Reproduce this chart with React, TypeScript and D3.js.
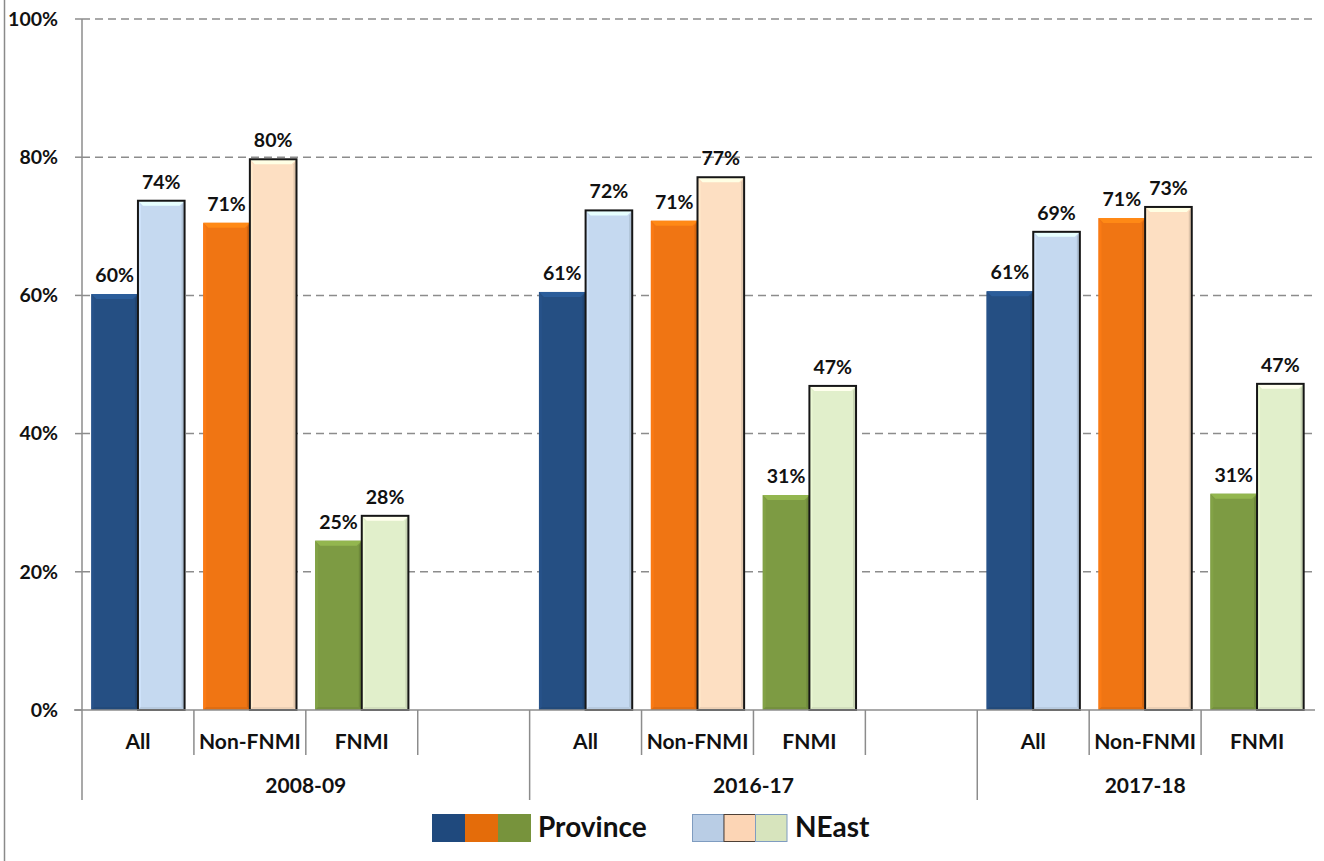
import React from "react";
import * as d3 from "d3";

// Categories and series
const years = ["2008-09", "2016-17", "2017-18"];
const groups = ["All", "Non-FNMI", "FNMI"];
const seriesNames = ["Province", "NEast"];

// Values as shares (0-1), one entry per year × group
const provinceValues = [
  [0.602, 0.705, 0.245],
  [0.605, 0.708, 0.311],
  [0.606, 0.712, 0.313],
];
const neastValues = [
  [0.737, 0.797, 0.281],
  [0.723, 0.771, 0.469],
  [0.692, 0.728, 0.472],
];

const yTicks = [0, 0.2, 0.4, 0.6, 0.8, 1.0];

const provinceColors = ["#254F83", "#F07513", "#7D9B43"];
const neastColors = ["#C5D9F0", "#FDDFC2", "#E1EFCB"];
const legendProvince = ["#1F497D", "#E46C0A", "#77933C"];
const legendNeast = ["#B9CDE5", "#FCD5B5", "#D7E4BD"];
const legendNeastStroke = ["#7F9CC0", "#4E4036", "#7F9CC0"];

const W = 1324;
const H = 861;
const left = 82;
const right = 1313;
const top = 19;
const bottom = 710;
const FONT = "Lato, 'Open Sans', sans-serif";

// Slots along the x axis: each year gets its three groups plus a spacer slot (except the last year)
type Slot = { key: string; year: number; group: number | null };
const slots: Slot[] = [];
years.forEach((y, yi) => {
  groups.forEach((g, gi) => slots.push({ key: `${y}|${g}`, year: yi, group: gi }));
  if (yi < years.length - 1) slots.push({ key: `${y}|gap`, year: yi, group: null });
});

const x = d3.scaleBand<string>().domain(slots.map((s) => s.key)).range([left, right]).padding(0);
const inner = d3.scaleBand<string>().domain(seriesNames).range([0, x.bandwidth()]).paddingInner(0).paddingOuter(0.2);
const y = d3.scaleLinear().domain([0, 1]).range([bottom, top]);
const pct = d3.format(".0%");

function Bar({ x0, y0, w, h, color, outline }: { x0: number; y0: number; w: number; h: number; color: string; outline: boolean }) {
  const c = d3.color(color)!;
  const light = c.brighter(0.45).formatHex();
  const lightSide = c.brighter(0.12).formatHex();
  const dark = c.darker(0.35).formatHex();
  const darkB = c.darker(0.2).formatHex();
  const b = 5;
  const s = 3;
  const x1 = x0 + w;
  const y1 = y0 + h;
  return (
    <g>
      <rect x={x0} y={y0} width={w} height={h} fill={color} />
      <polygon points={`${x0},${y0} ${x1},${y0} ${x1 - b},${y0 + b} ${x0 + b},${y0 + b}`} fill={light} />
      <polygon points={`${x0},${y0} ${x0 + s},${y0 + b} ${x0 + s},${y1 - s} ${x0},${y1}`} fill={lightSide} />
      <polygon points={`${x1},${y0} ${x1 - s},${y0 + b} ${x1 - s},${y1 - s} ${x1},${y1}`} fill={dark} />
      <polygon points={`${x0},${y1} ${x1},${y1} ${x1 - s},${y1 - s} ${x0 + s},${y1 - s}`} fill={darkB} />
      {outline && <rect x={x0} y={y0} width={w} height={h} fill="none" stroke="#161616" strokeWidth={2} />}
    </g>
  );
}

export default function App() {
  const bars: React.ReactNode[] = [];
  const labels: React.ReactNode[] = [];
  slots.forEach((s) => {
    if (s.group === null) return;
    const vals = [provinceValues[s.year][s.group], neastValues[s.year][s.group]];
    const cols = [provinceColors[s.group], neastColors[s.group]];
    seriesNames.forEach((name, si) => {
      const bx = x(s.key)! + inner(name)!;
      const bw = inner.bandwidth();
      const v = vals[si];
      bars.push(
        <Bar key={`${s.key}-${name}`} x0={bx} y0={y(v)} w={bw} h={bottom - y(v)} color={cols[si]} outline={si === 1} />
      );
      labels.push(
        <text key={`l-${s.key}-${name}`} x={bx + bw / 2} y={y(v) - 12} textAnchor="middle" fontSize={19.5} fontWeight={700} fill="#111">
          {pct(v)}
        </text>
      );
    });
  });

  // Tick positions on the category axis
  const boundaries = slots.map((s) => x(s.key)!);
  const yearStarts = new Set(slots.filter((s) => s.group === 0).map((s) => x(s.key)!));

  return (
    <svg width={W} height={H} style={{ position: "absolute", left: 0, top: 0, background: "#fff" }} fontFamily={FONT}>
      <rect width={W} height={H} fill="#fff" />
      <line x1={4.5} x2={4.5} y1={0} y2={H} stroke="#8a8a8a" strokeWidth={1.5} />

      {/* gridlines */}
      {yTicks.filter((t) => t > 0).map((t) => (
        <line key={`g${t}`} x1={left} x2={right} y1={y(t)} y2={y(t)} stroke="#8c8c8c" strokeWidth={1.5} strokeDasharray="8,5" />
      ))}

      {/* y axis */}
      <line x1={left} x2={left} y1={top} y2={bottom} stroke="#8c8c8c" strokeWidth={1.5} />
      {yTicks.map((t) => (
        <g key={`y${t}`}>
          <line x1={left - 7} x2={left} y1={y(t)} y2={y(t)} stroke="#8c8c8c" strokeWidth={1.5} />
          <text x={58} y={y(t)} dy="0.35em" textAnchor="end" fontSize={19.5} fontWeight={700} fill="#111">
            {pct(t)}
          </text>
        </g>
      ))}

      {bars}
      {labels}

      {/* category axis */}
      <line x1={left - 8} x2={right + 2} y1={bottom} y2={bottom} stroke="#8c8c8c" strokeWidth={1.5} />
      {boundaries.map((bx, i) => {
        const full = i === 0 || yearStarts.has(bx);
        return <line key={`t${i}`} x1={bx} x2={bx} y1={bottom} y2={full ? 800 : 755} stroke="#8c8c8c" strokeWidth={1.5} />;
      })}
      {slots.filter((s) => s.group !== null).map((s) => (
        <text key={`c-${s.key}`} x={x(s.key)! + x.bandwidth() / 2} y={749} textAnchor="middle" fontSize={21} fontWeight={700} fill="#111">
          {groups[s.group as number]}
        </text>
      ))}
      {years.map((yr, yi) => {
        const ys = slots.filter((s) => s.year === yi);
        const x0 = x(ys[0].key)!;
        const x1 = x(ys[ys.length - 1].key)! + x.bandwidth();
        return (
          <text key={`yr-${yr}`} x={(x0 + x1) / 2} y={793} textAnchor="middle" fontSize={21} fontWeight={700} fill="#111">
            {yr}
          </text>
        );
      })}

      {/* legend */}
      <g>
        {legendProvince.map((c, i) => (
          <rect key={`lp${i}`} x={432 + i * 33} y={814} width={33} height={28} fill={c} />
        ))}
        <text x={538} y={837} fontSize={28} fontWeight={700} fill="#111">
          {seriesNames[0]}
        </text>
        {legendNeast.map((c, i) => (
          <rect key={`ln${i}`} x={692.5 + i * 31.5} y={814.5} width={31.5} height={27} fill={c} stroke={legendNeastStroke[i]} strokeWidth={1} />
        ))}
        <text x={795} y={837} fontSize={28} fontWeight={700} fill="#111">
          {seriesNames[1]}
        </text>
      </g>
    </svg>
  );
}
